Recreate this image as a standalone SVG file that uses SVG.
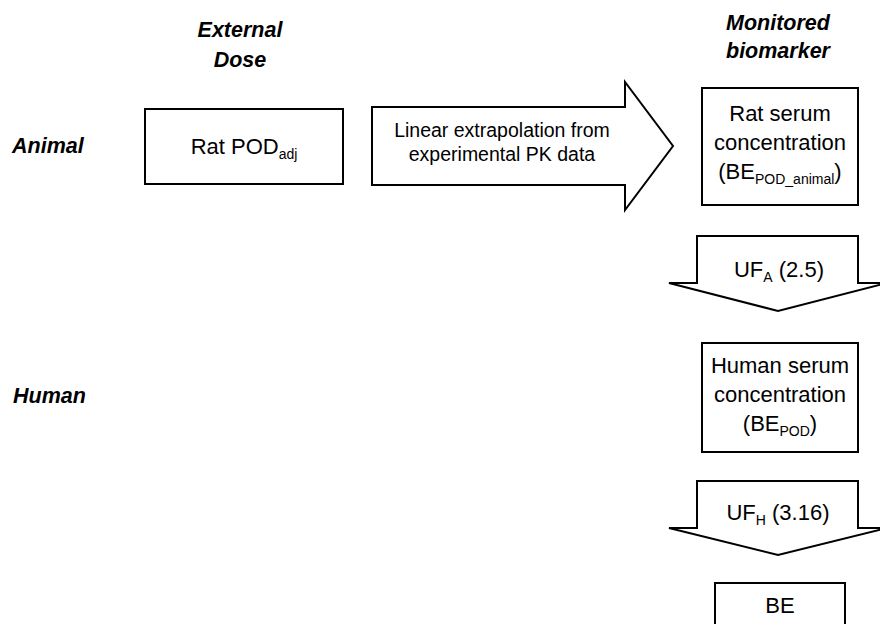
<svg xmlns="http://www.w3.org/2000/svg" width="880" height="624" viewBox="0 0 880 624">
<style>
.box{fill:#fff;stroke:#000;stroke-width:2}
.arr{fill:#fff;stroke:#000;stroke-width:2;stroke-linejoin:miter}
.t{font-family:"Liberation Sans",Arial,sans-serif;font-size:22px;fill:#000;text-anchor:middle}
.s{font-size:14px}
.a{font-family:"Liberation Sans",Arial,sans-serif;font-size:19.5px;fill:#000;text-anchor:middle}
.h{font-family:"Liberation Sans",Arial,sans-serif;font-size:21.5px;font-weight:bold;font-style:italic;fill:#000}
</style>
<rect width="880" height="624" fill="#fff"/>
<g id="headers">
<text class="h" x="240" y="37" text-anchor="middle">External</text>
<text class="h" x="240" y="67" text-anchor="middle">Dose</text>
<text class="h" x="778" y="30" text-anchor="middle">Monitored</text>
<text class="h" x="778" y="58" text-anchor="middle">biomarker</text>
<text class="h" x="12" y="153">Animal</text>
<text class="h" x="13" y="403">Human</text>
</g>
<g id="connectors">
<g id="pk-arrow">
<polygon class="arr" points="372,107 625,107 625,82 673,146 625,210 625,185 372,185"/>
<text class="a" x="502" y="137">Linear extrapolation from</text>
<text class="a" x="502" y="161">experimental PK data</text>
</g>
<g id="ufa-arrow">
<polygon class="arr" points="697,236 858,236 858,283 887,283 778,311 669,283 697,283"/>
<text class="t" x="779" y="277">UF<tspan class="s" dy="5">A</tspan><tspan dy="-5"> (2.5)</tspan></text>
</g>
<g id="ufh-arrow">
<polygon class="arr" points="697,481 858,481 858,528 887,528 778,555 669,528 697,528"/>
<text class="t" x="778" y="520">UF<tspan class="s" dy="5">H</tspan><tspan dy="-5"> (3.16)</tspan></text>
</g>
</g>
<g id="rat-pod">
<rect class="box" x="145" y="109" width="198" height="75"/>
<text class="t" x="244" y="154">Rat POD<tspan class="s" dy="5">adj</tspan></text>
</g>
<g id="rat-serum">
<rect class="box" x="702" y="88" width="156" height="117"/>
<text class="t" x="780" y="121">Rat serum</text>
<text class="t" x="780" y="150">concentration</text>
<text class="t" x="780" y="179">(BE<tspan class="s" dy="5">POD_animal</tspan><tspan dy="-5">)</tspan></text>
</g>
<g id="human-serum">
<rect class="box" x="702" y="343" width="156" height="109"/>
<text class="t" x="780" y="373">Human serum</text>
<text class="t" x="780" y="402">concentration</text>
<text class="t" x="780" y="431">(BE<tspan class="s" dy="5">POD</tspan><tspan dy="-5">)</tspan></text>
</g>
<g id="be">
<rect class="box" x="715" y="583" width="130" height="60"/>
<text class="t" x="780" y="613">BE</text>
</g>
</svg>
